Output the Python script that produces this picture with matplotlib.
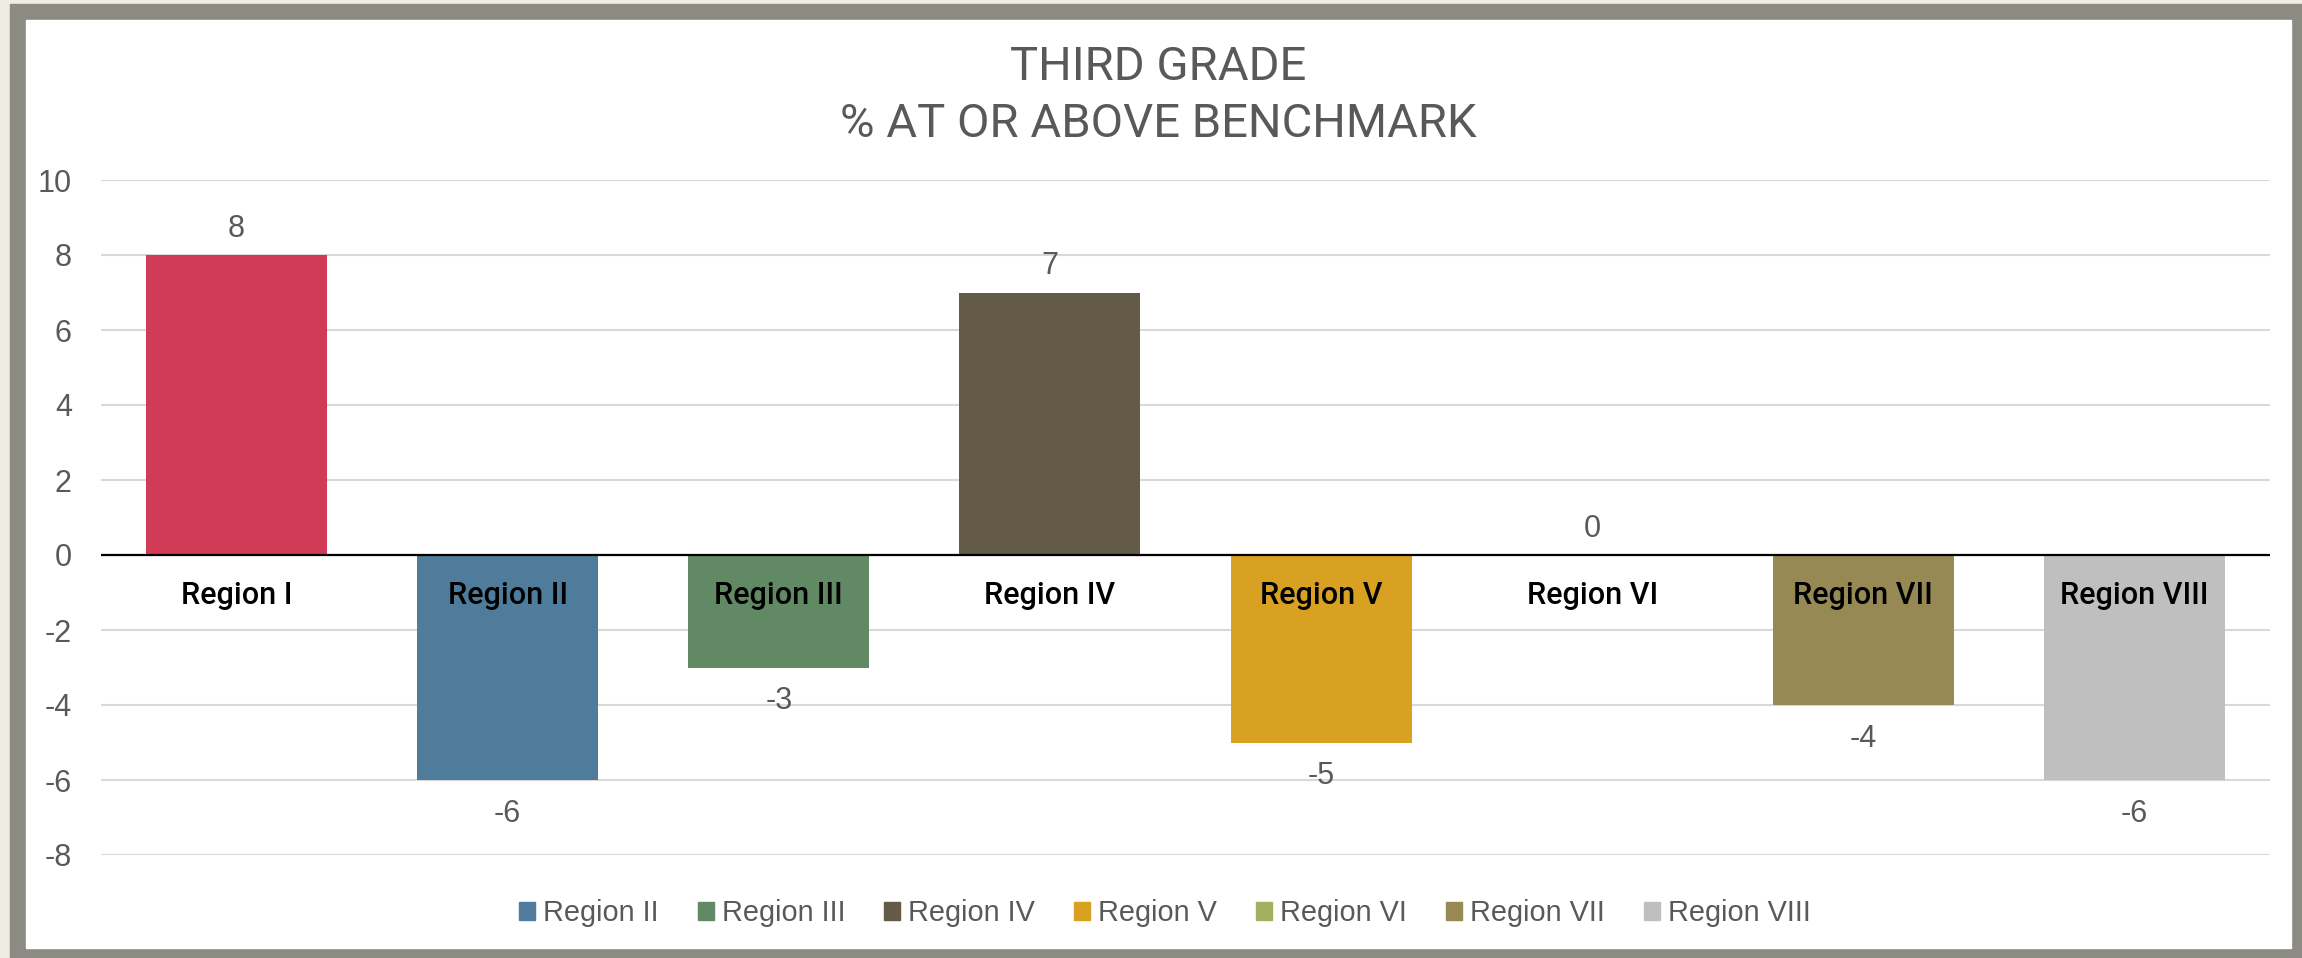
import matplotlib.pyplot as plt
from matplotlib.patches import Rectangle

plt.rcParams['axes.unicode_minus'] = False

# Data
regions = ['Region I', 'Region II', 'Region III', 'Region IV',
           'Region V', 'Region VI', 'Region VII', 'Region VIII']
change = [8, -6, -3, 7, -5, 0, -4, -6]
colors = ['#d13b55', '#4e7c9a', '#618963', '#645a48',
          '#d9a122', '#a4af61', '#968954', '#bfbfbf']
y_ticks = [-8, -6, -4, -2, 0, 2, 4, 6, 8, 10]
title_lines = ['THIRD GRADE', '% AT OR ABOVE BENCHMARK']

W, H = 2302, 958
GREY_TEXT = '#595959'
NARROW = ['Roboto', 'Liberation Sans', 'DejaVu Sans']
REGULAR = ['Liberation Sans', 'DejaVu Sans']

fig = plt.figure(figsize=(W / 100, H / 100), dpi=100, facecolor='#efece4')

# frame: grey border with a white chart area inside
fig.patches.append(Rectangle((10 / W, -0.05), 1.1, 1 - 4 / H + 0.05,
                             transform=fig.transFigure, color='#8b8b84', zorder=-2))
fig.patches.append(Rectangle((26 / W, 1 - 948 / H), (2291 - 26) / W, (948 - 20) / H,
                             transform=fig.transFigure, color='white', zorder=-1))

ax = fig.add_axes([101 / W, 1 - 855 / H, (2270 - 101) / W, (855 - 180) / H])
ax.set_facecolor('none')

x = range(len(regions))
ax.bar(x, change, width=0.668, color=colors, zorder=2)

ax.set_xlim(-0.5, len(regions) - 0.5)
ax.set_ylim(-8, 10)
ax.set_yticks(y_ticks)
ax.set_xticks([])
ax.grid(axis='y', color='#d9d9d9', linewidth=1.5, zorder=0)
ax.set_axisbelow(True)
ax.axhline(0, color='black', linewidth=1.6, zorder=3)
for s in ax.spines.values():
    s.set_visible(False)
ax.tick_params(axis='y', length=0, pad=21, labelsize=22, labelcolor=GREY_TEXT)
for lbl in ax.get_yticklabels():
    lbl.set_family(REGULAR)

# value labels and category names
for i, v in enumerate(change):
    off = 13 if v >= 0 else -30
    ax.annotate(str(v), (i, v), xytext=(0, off), textcoords='offset points',
                ha='center', va='baseline', fontsize=22, color=GREY_TEXT,
                family=REGULAR)
    ax.annotate(regions[i], (i, 0), xytext=(0, -35.3), textcoords='offset points',
                ha='center', va='baseline', fontsize=22, fontweight='medium',
                color='black', family=NARROW, zorder=4)

# title
fig.text(1158 / W, 1 - 80 / H, title_lines[0], ha='center', va='baseline',
         fontsize=34, color=GREY_TEXT, family=NARROW)
fig.text(1158 / W, 1 - 137 / H, title_lines[1], ha='center', va='baseline',
         fontsize=34, color=GREY_TEXT, family=NARROW)

# legend (Region I is not listed)
handles = [Rectangle((0, 0), 1, 1, color=c) for c in colors[1:]]
leg = fig.legend(handles, regions[1:], loc='center',
                 bbox_to_anchor=(1165 / W, 1 - 913 / H), ncol=7, frameon=False,
                 prop={'family': REGULAR, 'size': 20.8},
                 handlelength=0.55, handleheight=0.59, handletextpad=0.28,
                 columnspacing=1.35, borderpad=0, labelcolor=GREY_TEXT)

fig.savefig('out.png', dpi=100, facecolor=fig.get_facecolor())
